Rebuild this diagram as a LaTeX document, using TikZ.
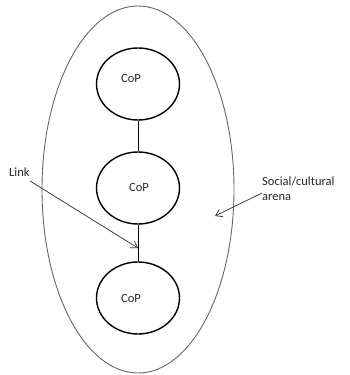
\documentclass[tikz,border=0pt]{standalone}
\usepackage{fontspec}
\setmainfont{Carlito}
\usetikzlibrary{arrows.meta,shapes.geometric}
\begin{document}
\begin{tikzpicture}[x=1pt,y=-1pt,
  cop/.style={draw=black,line width=1.4pt,ellipse,minimum width=83pt,minimum height=72pt,inner sep=0pt},
  lbl/.style={font=\fontsize{12.5}{15}\selectfont,text=black!85,inner sep=0pt},
  arr/.style={draw=black!75,line width=0.8pt,-{Straight Barb[length=6pt,width=8pt]}}]
\useasboundingbox (0,0) rectangle (349,375);
% social/cultural arena
\node[draw=black!60,line width=0.9pt,ellipse,minimum width=192pt,minimum height=367pt,inner sep=0pt] (arena) at (138,189.5) {};
% communities of practice
\node[cop] (c1) at (138,84) {};
\node[cop] (c2) at (138,188) {};
\node[cop] (c3) at (138,298) {};
\node[lbl] (t1) at (131,78) {CoP};
\node[lbl] (t2) at (139,187) {CoP};
\node[lbl] (t3) at (131,298) {CoP};
% links between communities
\draw[line width=0.8pt] (c1.south) -- (c2.north);
\draw[line width=0.8pt] (c2.south) -- (c3.north);
% labels with pointers
\node[lbl,anchor=west] (link) at (9,172) {Link};
\coordinate (linkstart) at (30,181);
\coordinate (linkend) at (138,248);
\draw[arr] (linkstart) -- (linkend);
\node[lbl,anchor=west,align=left] (social) at (262,189) {Social/cultural\\arena};
\coordinate (socstart) at (262,193);
\coordinate (arenapt) at (215,216);
\draw[arr] (socstart) -- (arenapt);
\end{tikzpicture}
\end{document}
